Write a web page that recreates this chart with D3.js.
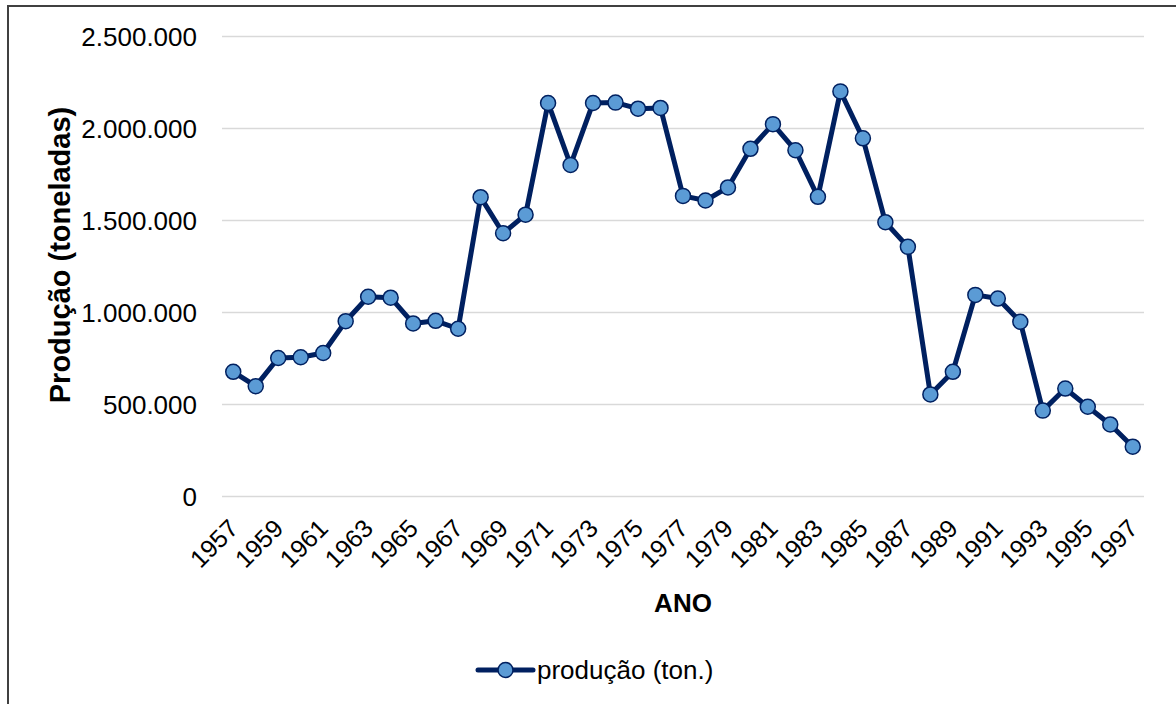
<!DOCTYPE html>
<html>
<head>
<meta charset="utf-8">
<script src="https://cdn.jsdelivr.net/npm/d3@7"></script>
<style>
  body { margin: 0; background: #fff; }
  svg { display: block; font-family: "Liberation Sans", Arial, sans-serif; }
</style>
</head>
<body>
<svg id="theSvg"></svg>
<script>
// anos e produção (toneladas)
const years = d3.range(1957, 1998);
const production = [
  675000, 597000, 750000, 754000, 777000, 950000, 1083000, 1078000, 938000, 952000,
  909000, 1624000, 1428000, 1529000, 2136000, 1799000, 2136000, 2138000, 2105000, 2109000,
  1631000, 1606000, 1677000, 1887000, 2021000, 1879000, 1626000, 2199000, 1944000, 1488000,
  1354000, 552000, 675000, 1093000, 1073000, 947000, 464000, 584000, 485000, 389000,
  268000
];
const yTicks = [0, 500000, 1000000, 1500000, 2000000, 2500000];
const xTickLabels = years.filter((d, i) => i % 2 === 0);
const seriesName = "produção (ton.)";

const width = 1176, height = 704;
const margin = {top: 36, right: 32, bottom: 208, left: 222};
const lineColour = "#002060", markerFill = "#5b9bd5";

const svg = d3.select("#theSvg")
  .attr("width", width)
  .attr("height", height)
  .attr("viewBox", [0, 0, width, height]);

// chart border (runs off the right/bottom of the picture)
svg.append("rect")
  .attr("x", 8).attr("y", 6)
  .attr("width", 1300).attr("height", 900)
  .attr("fill", "none")
  .attr("stroke", "#404040")
  .attr("stroke-width", 2);

const x = d3.scalePoint()
  .domain(years)
  .range([margin.left, width - margin.right])
  .padding(0.5);

const y = d3.scaleLinear()
  .domain([0, 2500000])
  .range([height - margin.bottom, margin.top]);

const ptBR = d3.formatLocale({decimal: ",", thousands: ".", grouping: [3], currency: ["R$", ""]});
const numFormat = ptBR.format(",.0f");

// y axis + gridlines
svg.append("g")
  .attr("class", "yAxis")
  .attr("transform", "translate(" + margin.left + ",0)")
  .call(d3.axisLeft(y).tickValues(yTicks).tickFormat(numFormat)
    .tickSize(-(width - margin.left - margin.right)).tickPadding(25))
  .call(g => g.select(".domain").remove())
  .call(g => g.selectAll(".tick line").attr("stroke", "#d9d9d9").attr("stroke-width", 1.5))
  .call(g => g.selectAll(".tick text")
    .attr("fill", "#000")
    .style("font-size", "26px")
    .attr("dy", "0.35em"));

// x axis labels, every other year, rotated
svg.append("g")
  .attr("class", "xAxis")
  .attr("transform", "translate(0," + (height - margin.bottom) + ")")
  .call(d3.axisBottom(x).tickValues(xTickLabels).tickSize(0).tickPadding(0))
  .call(g => g.select(".domain").remove())
  .call(g => g.selectAll(".tick text")
    .attr("fill", "#000")
    .style("font-size", "25px")
    .attr("text-anchor", "end")
    .attr("dy", null)
    .attr("transform", "translate(6,34) rotate(-45)"));

// axis titles
svg.append("text")
  .attr("transform", "translate(70,255) rotate(-90)")
  .attr("text-anchor", "middle")
  .style("font-size", "29px")
  .style("font-weight", "bold")
  .text("Produção (toneladas)");

svg.append("text")
  .attr("x", 683).attr("y", 612)
  .attr("text-anchor", "middle")
  .style("font-size", "26px")
  .style("font-weight", "bold")
  .text("ANO");

// line + markers
const line = d3.line()
  .x((d, i) => x(years[i]))
  .y(d => y(d));

svg.append("path")
  .datum(production)
  .attr("fill", "none")
  .attr("stroke", lineColour)
  .attr("stroke-width", 5)
  .attr("stroke-linejoin", "round")
  .attr("d", line);

svg.append("g")
  .selectAll("circle")
  .data(production)
  .join("circle")
  .attr("cx", (d, i) => x(years[i]))
  .attr("cy", d => y(d))
  .attr("r", 7.5)
  .attr("fill", markerFill)
  .attr("stroke", lineColour)
  .attr("stroke-width", 1.5);

// legend
const legend = svg.append("g").attr("transform", "translate(478,670)");
legend.append("line")
  .attr("x1", 0).attr("x2", 55)
  .attr("stroke", lineColour)
  .attr("stroke-width", 5)
  .attr("stroke-linecap", "round");
legend.append("circle")
  .attr("cx", 27.5).attr("r", 7.5)
  .attr("fill", markerFill)
  .attr("stroke", lineColour)
  .attr("stroke-width", 1.5);
legend.append("text")
  .attr("x", 59).attr("dy", "0.35em")
  .style("font-size", "26px")
  .text(seriesName);
</script>
</body>
</html>
